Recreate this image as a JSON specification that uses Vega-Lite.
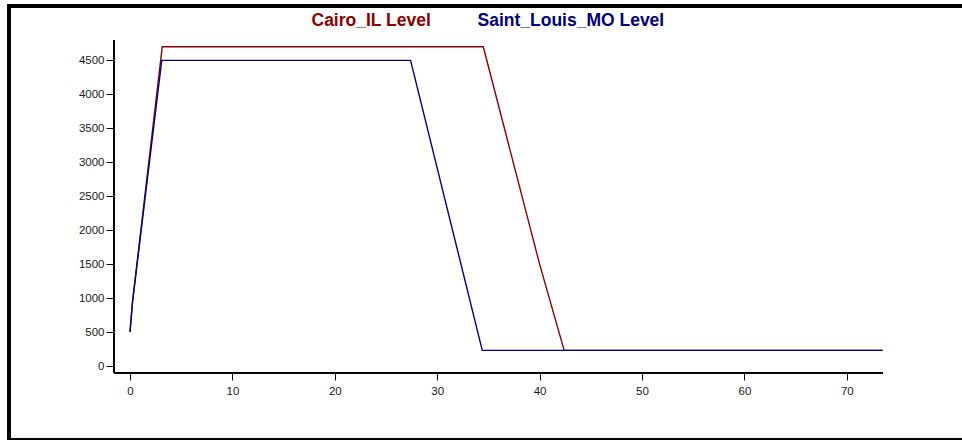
{
  "$schema": "https://vega.github.io/schema/vega-lite/v6.json",
  "width": 970,
  "height": 434,
  "autosize": {"type": "none"},
  "padding": {"left": 9, "top": 6, "right": 0, "bottom": 0},
  "background": "white",
  "config": {
    "view": {"stroke": "black", "strokeWidth": 4},
    "font": "Liberation Sans",
    "axis": {
      "domain": false,
      "grid": false,
      "tickColor": "black",
      "tickWidth": 1,
      "labelFont": "Liberation Sans",
      "labelFontSize": 11.5,
      "labelColor": "#1a1a1a",
      "title": null
    }
  },
  "data": {
    "values": [
      {"t": 0, "v": 500, "s": "Cairo_IL Level"},
      {"t": 0.25, "v": 950, "s": "Cairo_IL Level"},
      {"t": 3.15, "v": 4700, "s": "Cairo_IL Level"},
      {"t": 34.5, "v": 4700, "s": "Cairo_IL Level"},
      {"t": 40, "v": 1500, "s": "Cairo_IL Level"},
      {"t": 42.4, "v": 230, "s": "Cairo_IL Level"},
      {"t": 73.5, "v": 230, "s": "Cairo_IL Level"},
      {"t": 0, "v": 500, "s": "Saint_Louis_MO Level"},
      {"t": 0.25, "v": 950, "s": "Saint_Louis_MO Level"},
      {"t": 3.1, "v": 4500, "s": "Saint_Louis_MO Level"},
      {"t": 27.4, "v": 4500, "s": "Saint_Louis_MO Level"},
      {"t": 34.4, "v": 230, "s": "Saint_Louis_MO Level"},
      {"t": 73.5, "v": 230, "s": "Saint_Louis_MO Level"}
    ]
  },
  "layer": [
    {
      "mark": {"type": "line", "strokeWidth": 1.4, "clip": true},
      "encoding": {
        "x": {
          "field": "t",
          "type": "quantitative",
          "scale": {"domain": [-11.816, 82.91], "nice": false, "zero": false},
          "axis": {"orient": "bottom", "offset": -67, "values": [0, 10, 20, 30, 40, 50, 60, 70], "format": "d", "tickSize": 7, "labelPadding": 5}
        },
        "y": {
          "field": "v",
          "type": "quantitative",
          "scale": {"domain": [-1089, 5300], "nice": false, "zero": false},
          "axis": {"orient": "left", "offset": -105, "values": [0, 500, 1000, 1500, 2000, 2500, 3000, 3500, 4000, 4500], "format": "d", "tickSize": 8, "labelPadding": 2}
        },
        "color": {
          "field": "s",
          "type": "nominal",
          "scale": {"domain": ["Cairo_IL Level", "Saint_Louis_MO Level"], "range": ["#8B0000", "#000080"]},
          "legend": {
            "orient": "none",
            "legendX": 285,
            "legendY": 6,
            "direction": "horizontal",
            "title": null,
            "symbolSize": 0,
            "symbolStrokeWidth": 0,
            "symbolOpacity": 0,
            "labelFont": "Liberation Sans",
            "labelFontSize": 17.5,
            "labelFontWeight": "bold",
            "labelOffset": 0,
            "labelLimit": 400,
            "columnPadding": 28,
            "padding": 0,
            "encode": {"labels": {"update": {"fill": {"scale": "color", "field": "value"}}}}
          }
        }
      }
    },
    {
      "mark": {"type": "rule", "color": "black", "strokeWidth": 1.5},
      "encoding": {"x": {"datum": -1.56}, "y": {"datum": -103}, "y2": {"datum": 4794}}
    },
    {
      "mark": {"type": "rule", "color": "black", "strokeWidth": 1.5},
      "encoding": {"y": {"datum": -103}, "x": {"datum": -1.56}, "x2": {"datum": 73.5}}
    }
  ]
}
